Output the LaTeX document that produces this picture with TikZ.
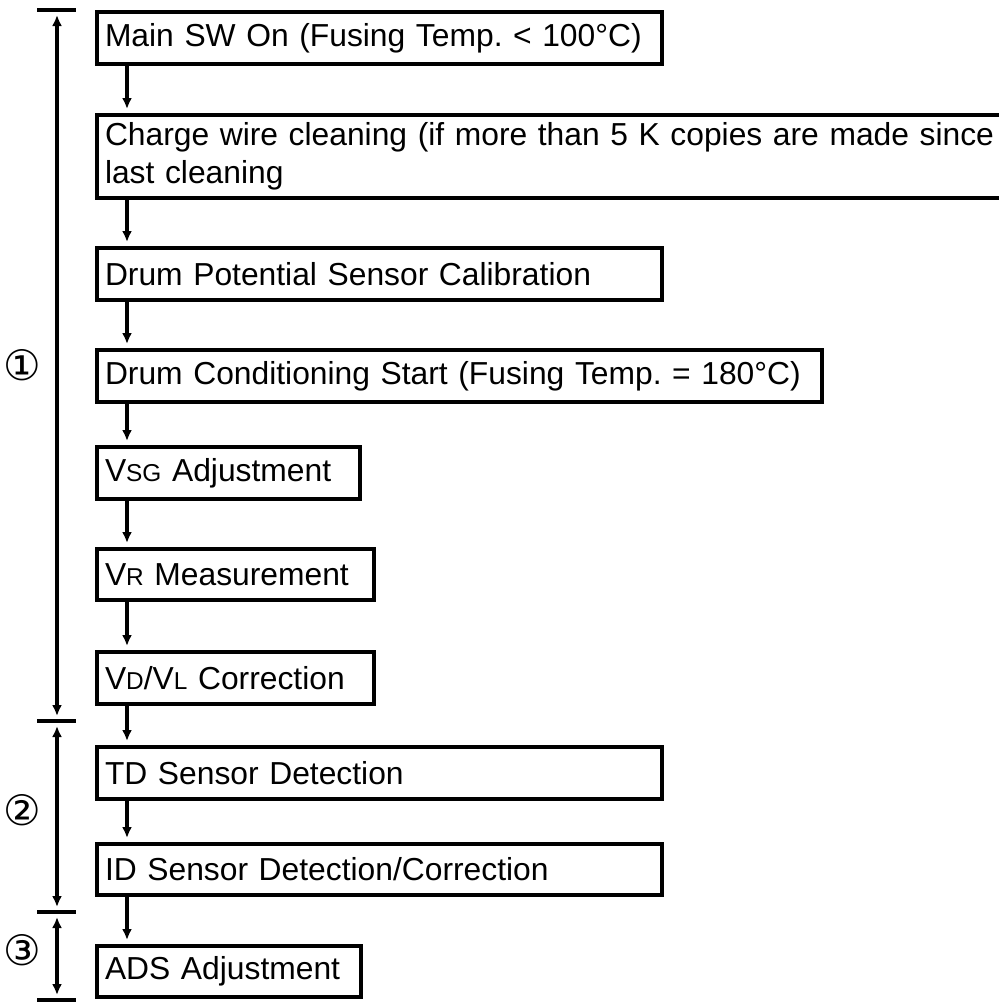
\documentclass[tikz,border=0pt]{standalone}
\usepackage{fontspec}
\setmainfont{Liberation Sans}
\newfontfamily\circfont{DejaVu Sans}
\usetikzlibrary{arrows.meta, positioning}
\newcommand{\lowcap}[1]{{\fontsize{12.2}{15}\selectfont #1}}
\frenchspacing

\begin{document}
\begin{tikzpicture}[x=0.5pt, y=-0.5pt,
                stepbox/.style={draw, line width=2pt, anchor=north west, align=left, inner xsep=4pt, inner ysep=0pt, font=\fontsize{15.9}{19}\selectfont},
                flow/.style={-{Latex[length=5.5pt,width=5pt]}, line width=1.7pt, shorten >=2pt},
                span/.style={{Latex[length=5.5pt,width=5pt]}-{Latex[length=5.5pt,width=5pt]}, line width=1.7pt, shorten >=2.5pt, shorten <=2.5pt},
                tick/.style={line width=2pt},
                phase/.style={font=\circfont\fontsize{21}{21}\selectfont}]

                \useasboundingbox (0,0) rectangle (999,1002);
                \clip (0,0) rectangle (999,1002);

                % steps
                \node[stepbox, minimum width=282.5pt, minimum height=26pt, text width=274.5pt] (mainsw) at (95,10) {\mbox{Main SW On (Fusing Temp. < 100°C)}};
                \node[stepbox, minimum width=457.5pt, minimum height=41.5pt, text width=449.5pt] (wire) at (95,113) {\mbox{Charge wire cleaning (if more than 5 K copies are made since}\\\mbox{last cleaning}};
                \node[stepbox, minimum width=282.5pt, minimum height=26pt, text width=274.5pt] (calib) at (95,246) {\mbox{Drum Potential Sensor Calibration}};
                \node[stepbox, minimum width=362.5pt, minimum height=26pt, text width=354.5pt] (cond) at (95,348) {\mbox{Drum Conditioning Start (Fusing Temp. = 180°C)}};
                \node[stepbox, minimum width=131.5pt, minimum height=26pt, text width=123.5pt] (vsg) at (95,445) {\mbox{V\lowcap{SG} Adjustment}};
                \node[stepbox, minimum width=138.5pt, minimum height=25.5pt, text width=130.5pt] (vr) at (95,547) {\mbox{V\lowcap{R} Measurement}};
                \node[stepbox, minimum width=138.5pt, minimum height=26pt, text width=130.5pt] (vdvl) at (95,650) {\mbox{V\lowcap{D}/V\lowcap{L} Correction}};
                \node[stepbox, minimum width=282.5pt, minimum height=26pt, text width=274.5pt] (td) at (95,745) {\mbox{TD Sensor Detection}};
                \node[stepbox, minimum width=282.5pt, minimum height=25.5pt, text width=274.5pt] (id) at (95,842) {\mbox{ID Sensor Detection/Correction}};
                \node[stepbox, minimum width=132pt, minimum height=25.5pt, text width=124pt] (ads) at (95,944) {\mbox{ADS Adjustment}};

                \foreach \a/\b in {mainsw/wire, wire/calib, calib/cond, cond/vsg, vsg/vr, vr/vdvl, vdvl/td, td/id, id/ads}
                    \draw[flow] ([xshift=16pt]\a.south west) -- ([xshift=16pt]\b.north west);

                % phases
                \coordinate (p0) at (57,10);
                \coordinate (p1) at (57,721);
                \coordinate (p2) at (57,912);
                \coordinate (p3) at (57,1000);

                \foreach \p in {p0, p1, p2, p3}
                    \draw[tick] ([xshift=-10pt]\p) -- ([xshift=9.5pt]\p);

                \draw[span] (p0) -- (p1);
                \draw[span] (p1) -- (p2);
                \draw[span] (p2) -- (p3);

                \node[phase] (ph1) at (22,365) {①};
                \node[phase] (ph2) at (22,810) {②};
                \node[phase] (ph3) at (22,950) {③};
            \end{tikzpicture}
\end{document}
